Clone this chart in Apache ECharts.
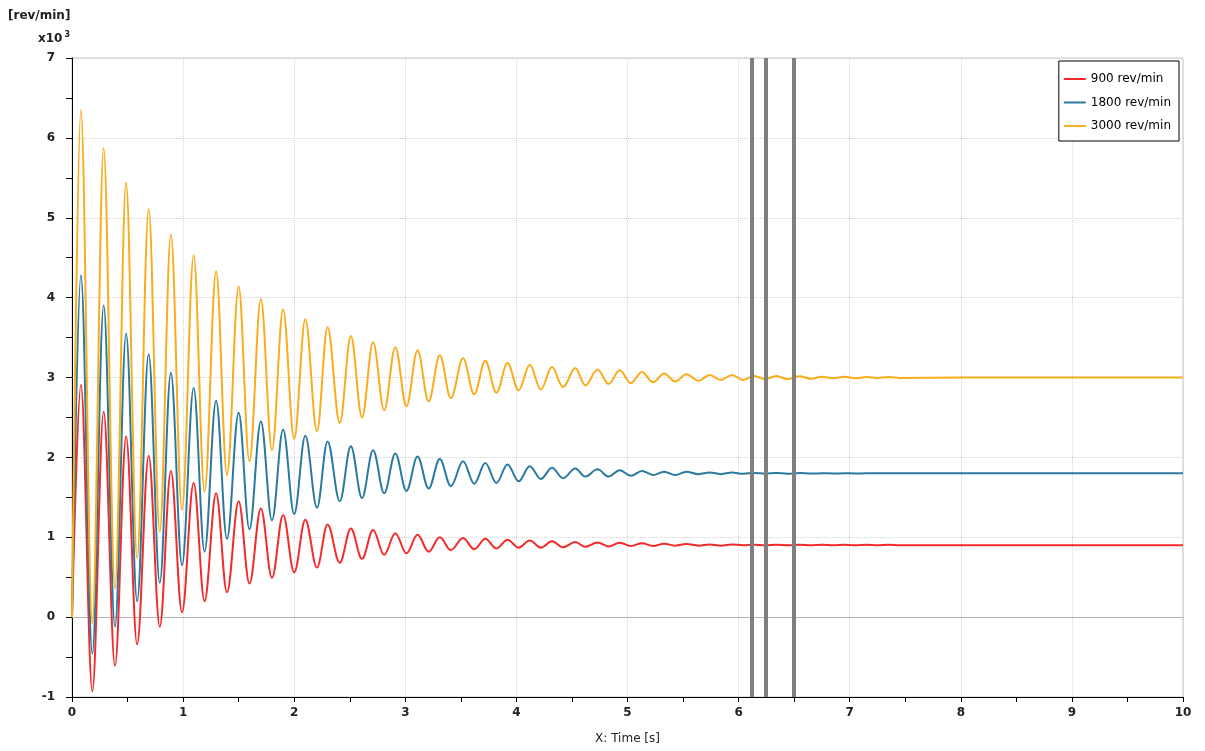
<!DOCTYPE html>
<html>
<head>
<meta charset="utf-8">
<script src="https://cdn.jsdelivr.net/npm/echarts@6/dist/echarts.min.js"></script>
<style>
  html, body { margin: 0; padding: 0; background: #fff; }
  #speedchart { width: 1205px; height: 751px; }
</style>
</head>
<body>
<div id="speedchart"></div>
<script>
// times [s] of the start, then alternating peaks / troughs, then the settled tail
var times = [0,
  0.08, 0.183, 0.285, 0.387, 0.487, 0.586, 0.69, 0.79, 0.89, 0.99,
  1.095, 1.193, 1.297, 1.395, 1.50, 1.597, 1.70, 1.80, 1.90, 2.00,
  2.10, 2.205, 2.30, 2.41, 2.51, 2.61, 2.71, 2.81, 2.91, 3.01,
  3.11, 3.21, 3.31, 3.41, 3.52, 3.62, 3.72, 3.82, 3.92, 4.02,
  4.12, 4.22, 4.32, 4.42, 4.53, 4.62, 4.73, 4.83, 4.93, 5.03,
  5.13, 5.23, 5.33, 5.43, 5.53, 5.64, 5.74, 5.84, 5.94, 6.04,
  6.14, 6.24, 6.34, 6.44, 6.55, 6.65, 6.75, 6.85, 6.95, 7.05,
  7.15, 7.25, 7.35, 7.45,
  8.0, 10.0];

// speeds in 1000 rev/min
var speed900 = [0,
  2.91, -0.93, 2.57, -0.61, 2.26, -0.34, 2.02, -0.12, 1.83, 0.06,
  1.68, 0.20, 1.55, 0.31, 1.45, 0.42, 1.36, 0.49, 1.28, 0.56,
  1.22, 0.62, 1.16, 0.68, 1.11, 0.73, 1.09, 0.78, 1.05, 0.80,
  1.03, 0.82, 1.00, 0.84, 0.99, 0.85, 0.98, 0.86, 0.97, 0.87,
  0.96, 0.87, 0.95, 0.875, 0.94, 0.88, 0.935, 0.885, 0.93, 0.89,
  0.925, 0.89, 0.92, 0.895, 0.915, 0.895, 0.91, 0.895, 0.91, 0.90,
  0.905, 0.90, 0.905, 0.90, 0.905, 0.90, 0.905, 0.90, 0.905, 0.90,
  0.905, 0.90, 0.905, 0.90,
  0.90, 0.90];

var speed1800 = [0,
  4.28, -0.46, 3.90, -0.12, 3.55, 0.20, 3.29, 0.43, 3.06, 0.65,
  2.87, 0.82, 2.71, 0.98, 2.56, 1.10, 2.45, 1.21, 2.35, 1.29,
  2.27, 1.37, 2.20, 1.45, 2.14, 1.49, 2.09, 1.55, 2.05, 1.58,
  2.01, 1.61, 1.98, 1.64, 1.95, 1.67, 1.93, 1.68, 1.91, 1.70,
  1.89, 1.73, 1.87, 1.74, 1.86, 1.76, 1.85, 1.76, 1.84, 1.77,
  1.83, 1.78, 1.82, 1.78, 1.82, 1.79, 1.81, 1.79, 1.81, 1.795,
  1.805, 1.795, 1.805, 1.795, 1.803, 1.797, 1.802, 1.798, 1.801, 1.799,
  1.80, 1.80, 1.80, 1.80,
  1.80, 1.80];

var speed3000 = [0,
  6.35, -0.08, 5.87, 0.36, 5.44, 0.74, 5.11, 1.07, 4.79, 1.34,
  4.53, 1.57, 4.33, 1.78, 4.14, 1.95, 3.98, 2.09, 3.85, 2.23,
  3.73, 2.33, 3.63, 2.43, 3.52, 2.50, 3.44, 2.59, 3.38, 2.64,
  3.34, 2.70, 3.28, 2.74, 3.24, 2.79, 3.21, 2.81, 3.18, 2.84,
  3.16, 2.85, 3.13, 2.88, 3.12, 2.90, 3.10, 2.92, 3.09, 2.93,
  3.07, 2.94, 3.05, 2.95, 3.04, 2.96, 3.03, 2.97, 3.03, 2.97,
  3.02, 2.98, 3.02, 2.98, 3.015, 2.985, 3.01, 2.99, 3.01, 2.99,
  3.005, 2.995, 3.005, 2.995,
  3.00, 3.00];

var seriesNames = ['900 rev/min', '1800 rev/min', '3000 rev/min'];
var seriesColors = ['#f42a2a', '#2a7aa0', '#f9ac1c'];
var cursorTimes = [6.12, 6.235, 6.5];

function pairs(vals) {
    var out = [];
    for (var i = 0; i < times.length; i++) out.push([times[i], vals[i]]);
    return out;
}

var myChart = echarts.init(document.getElementById('speedchart'));

var font = 'DejaVu Sans, Verdana, sans-serif';

var option = {
    animation: false,
    backgroundColor: '#fff',
    grid: { left: 72, right: 22, top: 58, bottom: 54, show: true, borderColor: '#c8c8c8', borderWidth: 1 },
    legend: {
        orient: 'vertical',
        right: 26, top: 61,
        data: seriesNames,
        icon: 'rect',
        itemWidth: 22, itemHeight: 2, itemGap: 11.5,
        padding: [12, 8, 9, 5],
        backgroundColor: '#fff',
        borderColor: '#000', borderWidth: 1,
        textStyle: { fontFamily: font, fontSize: 12, color: '#000' }
    },
    graphic: [
        { type: 'text', left: 8, top: 10, style: { text: '[rev/min]', font: 'bold 12px ' + font, fill: '#222' } },
        { type: 'text', left: 38, top: 31, style: {
            text: 'x10{s|3}', font: 'bold 12px ' + font, fill: '#222',
            rich: { s: { fontSize: 8, fontWeight: 'bold', fontFamily: font, verticalAlign: 'top', padding: [0, 0, 8, 2] } }
        } }
    ],
    xAxis: [{
        type: 'value', min: 0, max: 10, interval: 1,
        name: 'X: Time [s]', nameLocation: 'middle', nameGap: 36,
        nameTextStyle: { fontFamily: font, fontSize: 12, color: '#222' },
        axisLine: { onZero: false, lineStyle: { color: '#000', width: 1 } },
        axisTick: { length: 5, lineStyle: { color: '#000' } },
        minorTick: { show: true, splitNumber: 2, length: 5, lineStyle: { color: '#000' } },
        axisLabel: { margin: 10, fontFamily: font, fontSize: 12, fontWeight: 'bold', color: '#222' },
        splitLine: { show: true, lineStyle: { color: '#d4d4d4', type: 'dotted' } }
    }, {
        // solid zero line
        type: 'value', min: 0, max: 10, show: true,
        axisLine: { onZero: true, onZeroAxisIndex: 0, lineStyle: { color: '#b4b4b4', width: 1 } },
        axisTick: { show: false }, axisLabel: { show: false }, splitLine: { show: false }
    }],
    yAxis: {
        type: 'value', min: -1, max: 7, interval: 1,
        axisLine: { show: true, lineStyle: { color: '#000', width: 1 } },
        axisTick: { length: 6, lineStyle: { color: '#000' } },
        minorTick: { show: true, splitNumber: 2, length: 6, lineStyle: { color: '#000' } },
        axisLabel: { margin: 17, fontFamily: font, fontSize: 12, fontWeight: 'bold', color: '#222' },
        splitLine: { show: true, lineStyle: { color: '#d4d4d4', type: 'dotted' } }
    },
    series: [speed900, speed1800, speed3000].map(function (vals, i) {
        var s = {
            name: seriesNames[i],
            type: 'line',
            xAxisIndex: 0,
            data: pairs(vals),
            smooth: 0.36,
            smoothMonotone: 'x',
            showSymbol: false,
            symbol: 'none',
            color: seriesColors[i],
            lineStyle: { width: 2, color: seriesColors[i] },
            emphasis: { disabled: true }
        };
        if (i === 2) {
            s.markLine = {
                silent: true,
                symbol: ['none', 'none'],
                label: { show: false },
                lineStyle: { color: '#7f7f7f', width: 4, type: 'solid' },
                data: cursorTimes.map(function (t) { return { xAxis: t }; })
            };
        }
        return s;
    })
};

myChart.setOption(option);
</script>
</body>
</html>
